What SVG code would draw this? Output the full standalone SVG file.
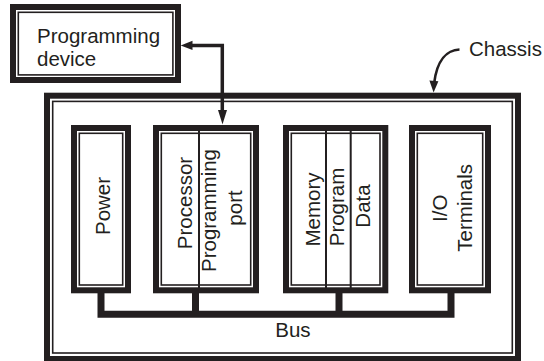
<svg xmlns="http://www.w3.org/2000/svg" width="544" height="361" viewBox="0 0 544 361">
<style>
.outer{fill:none;stroke:#231f20;stroke-width:6}
.inner{fill:none;stroke:#231f20;stroke-width:1.6}
.div{stroke:#231f20;stroke-width:2}
text{font-family:"Liberation Sans",Arial,sans-serif;font-size:20.5px;fill:#231f20}
.v{text-anchor:middle}
.bus{fill:none;stroke:#231f20;stroke-width:7;stroke-linejoin:miter;stroke-linecap:butt}
.conn{fill:none;stroke:#231f20;stroke-width:3.5}
.conn2{fill:none;stroke:#231f20;stroke-width:2.6}
.head{fill:#231f20}
</style>
<rect width="544" height="361" fill="#fff"/>
<g id="chassis">
<rect class="outer" x="47" y="95.7" width="471" height="263.3"/>
<rect class="inner" x="52.7" y="101.4" width="459.6" height="251.6"/>
</g>
<g id="programming-device">
<rect class="outer" x="13" y="7" width="165" height="73"/>
<rect class="inner" x="18.3" y="12.3" width="154.6" height="62.6"/>
<text x="37" y="43">Programming</text>
<text x="37" y="66">device</text>
</g>
<g id="power">
<rect class="outer" x="74" y="128" width="54" height="162.3"/>
<rect class="inner" x="79.3" y="133.3" width="43.4" height="151.7"/>
<text class="v" transform="translate(110,206) rotate(-90)">Power</text>
</g>
<g id="processor">
<rect class="outer" x="156" y="128" width="100" height="162.3"/>
<rect class="inner" x="161.3" y="133.3" width="89.4" height="151.7"/>
<line class="div" x1="199" y1="131" x2="199" y2="288"/>
<text class="v" transform="translate(192,203) rotate(-90)">Processor</text>
<text class="v" transform="translate(215.5,210.5) rotate(-90)">Programming</text>
<text class="v" transform="translate(241.5,208) rotate(-90)">port</text>
</g>
<g id="memory">
<rect class="outer" x="286" y="128" width="99.3" height="162.3"/>
<rect class="inner" x="291.3" y="133.3" width="88.7" height="151.7"/>
<line class="div" x1="326" y1="131" x2="326" y2="288"/>
<line class="div" x1="350.7" y1="131" x2="350.7" y2="288"/>
<text class="v" transform="translate(320,209.5) rotate(-90)">Memory</text>
<text class="v" transform="translate(344,207) rotate(-90)">Program</text>
<text class="v" transform="translate(370,206) rotate(-90)">Data</text>
</g>
<g id="io">
<rect class="outer" x="412" y="128" width="76" height="162.3"/>
<rect class="inner" x="417.3" y="133.3" width="65.4" height="151.7"/>
<text class="v" transform="translate(447,208.3) rotate(-90)">I/O</text>
<text class="v" transform="translate(472,207.8) rotate(-90)">Terminals</text>
</g>
<g id="connectors">
<path class="bus" d="M101,293 V314.2 H451 V293"/>
<path class="bus" d="M195.5,293 V314"/>
<path class="bus" d="M339,293 V314"/>
<path class="conn" d="M191,45.4 H222.3 V111"/>
<polygon class="head" points="180.7,45.4 192.5,40.8 192.5,50"/>
<polygon class="head" points="222.5,124.5 218,110 227,110"/>
<path class="conn2" d="M459.5,49.5 C447,50 437,60 434.2,83"/>
<polygon class="head" points="433.6,92.5 429.4,80.5 438.4,81.2"/>
</g>
<g id="labels">
<text x="469" y="56">Chassis</text>
<text x="275.3" y="337.3">Bus</text>
</g>
</svg>
